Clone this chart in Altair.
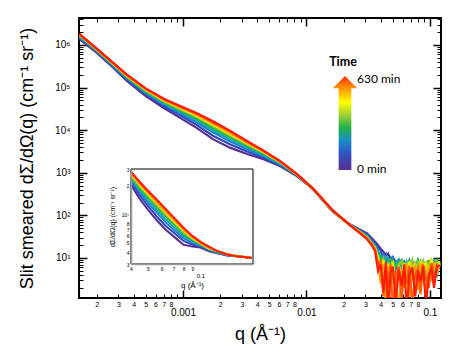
import altair as alt
import pandas as pd

# ---------------- data ----------------
TIMES = [0, 70, 140, 210, 280, 350, 420, 490, 560, 630]
COLORS = ['#5a2d91', '#3346bd', '#1f7fd0', '#15a6b5', '#24b34c',
          '#8ccc2e', '#f2e600', '#ffa200', '#ff5c00', '#ff1c00']

# smooth part of the main curves: q grid and log10 intensity (rows: q, cols: time)
Q_SMOOTH = [1.45e-4, 2.0e-4, 2.7e-4, 3.5e-4, 5.0e-4, 7.0e-4, 9.5e-4, 1.3e-3,
            1.75e-3, 2.4e-3, 3.3e-3, 4.5e-3, 6.1e-3, 8.3e-3, 1.13e-2, 1.64e-2,
            2.25e-2, 2.7e-2, 3.1e-2, 3.4e-2]
LOG_I_SMOOTH = [
    [6.14, 6.16, 6.18, 6.20, 6.22, 6.23, 6.24, 6.25, 6.25, 6.26],
    [5.82, 5.84, 5.86, 5.87, 5.88, 5.89, 5.90, 5.91, 5.91, 5.92],
    [5.48, 5.50, 5.52, 5.54, 5.55, 5.56, 5.57, 5.58, 5.58, 5.59],
    [5.16, 5.19, 5.22, 5.24, 5.25, 5.27, 5.28, 5.29, 5.30, 5.31],
    [4.80, 4.84, 4.87, 4.89, 4.91, 4.93, 4.95, 4.96, 4.97, 4.98],
    [4.52, 4.56, 4.60, 4.63, 4.66, 4.68, 4.70, 4.71, 4.73, 4.74],
    [4.29, 4.35, 4.39, 4.43, 4.47, 4.49, 4.52, 4.54, 4.55, 4.57],
    [4.05, 4.12, 4.18, 4.23, 4.27, 4.31, 4.33, 4.36, 4.38, 4.40],
    [3.79, 3.87, 3.95, 4.00, 4.05, 4.10, 4.13, 4.16, 4.18, 4.21],
    [3.59, 3.67, 3.74, 3.79, 3.84, 3.88, 3.91, 3.94, 3.97, 3.99],
    [3.44, 3.50, 3.55, 3.60, 3.64, 3.67, 3.69, 3.71, 3.73, 3.75],
    [3.32, 3.36, 3.39, 3.42, 3.45, 3.47, 3.48, 3.50, 3.51, 3.52],
    [3.16, 3.18, 3.20, 3.22, 3.24, 3.25, 3.26, 3.27, 3.27, 3.28],
    [2.93, 2.94, 2.95, 2.96, 2.96, 2.97, 2.97, 2.97, 2.98, 2.98],
    [2.62, 2.62, 2.62, 2.63, 2.63, 2.63, 2.63, 2.63, 2.63, 2.63],
    [2.08, 2.09, 2.09, 2.10, 2.10, 2.10, 2.10, 2.11, 2.11, 2.11],
    [1.79, 1.79, 1.78, 1.78, 1.78, 1.78, 1.77, 1.77, 1.77, 1.77],
    [1.67, 1.65, 1.64, 1.63, 1.62, 1.61, 1.61, 1.60, 1.59, 1.59],
    [1.58, 1.55, 1.53, 1.51, 1.49, 1.48, 1.47, 1.46, 1.45, 1.44],
    [1.46, 1.43, 1.40, 1.37, 1.35, 1.34, 1.32, 1.31, 1.30, 1.29],
]

# noisy high-q part: q grid and log10 intensity (one list per time)
Q_NOISE = [0.036, 0.038, 0.040, 0.042, 0.044, 0.046, 0.048, 0.050, 0.053, 0.056,
           0.059, 0.062, 0.065, 0.068, 0.072, 0.076, 0.080, 0.084, 0.088, 0.093,
           0.098, 0.103, 0.108, 0.114, 0.120]
LOG_I_NOISE = [
    [1.38, 1.30, 1.22, 1.15, 1.05, 1.10, 0.98, 1.02, 0.90, 0.95, 0.85, 0.92, 0.80, 0.88, 0.74, 0.86, 0.70, 0.82, 0.78, 0.66, 0.80, 0.72, 0.84, 0.76, 0.82],
    [1.34, 1.25, 1.18, 0.95, 1.08, 0.70, 1.00, 0.92, 0.60, 0.94, 0.82, 0.40, 0.86, 0.78, 0.90, 0.55, 0.84, 0.75, 0.88, 0.62, 0.85, 0.80, 0.70, 0.90, 0.86],
    [1.30, 1.20, 0.90, 1.10, 0.50, 0.98, 0.88, 1.00, 0.70, 0.88, 0.95, 0.62, 0.90, 0.75, 0.55, 0.88, 0.80, 0.92, 0.66, 0.86, 0.74, 0.90, 0.82, 0.60, 0.84],
    [1.28, 1.16, 1.05, 0.80, 1.02, 0.94, 0.60, 0.92, 0.85, 0.96, 0.70, 0.90, 0.82, 0.95, 0.68, 0.80, 0.92, 0.58, 0.85, 0.90, 0.76, 0.82, 0.94, 0.72, 0.88],
    [1.26, 1.10, 0.95, 1.00, 0.75, 0.92, 0.98, 0.55, 0.90, 0.80, 0.94, 0.86, 0.45, 0.92, 0.88, 0.70, 0.96, 0.84, 0.60, 0.90, 0.93, 0.70, 0.86, 0.95, 0.80],
    [1.24, 1.05, 0.85, 0.98, 0.50, 0.90, 0.70, 0.95, 0.40, 0.85, 0.92, 0.55, 0.88, 0.78, 0.96, 0.50, 0.90, 0.82, 0.94, 0.65, 0.88, 0.96, 0.74, 0.92, 0.86],
    [1.22, 1.00, 0.70, 0.95, 0.30, 0.85, 0.55, 0.90, 0.20, 0.82, 0.60, 0.88, 0.35, 0.92, 0.70, 0.86, 0.45, 0.94, 0.78, 0.90, 0.55, 0.95, 0.85, 0.70, 0.92],
    [1.20, 0.90, 0.40, 0.85, -0.10, 0.80, 0.20, 0.75, 0.50, -0.20, 0.70, 0.30, 0.85, 0.10, 0.65, 0.80, 0.25, 0.88, 0.55, 0.20, 0.82, 0.45, 0.90, 0.65, 0.86],
    [1.18, 0.80, 0.95, 0.10, 0.75, 0.30, 0.85, -0.20, 0.60, 0.80, 0.05, 0.70, 0.40, 0.82, -0.10, 0.60, 0.75, 0.15, 0.85, 0.50, 0.30, 0.88, 0.55, 0.78, 0.84],
    [1.16, 0.70, 0.85, 0.20, 0.90, -0.30, 0.65, 0.80, 0.00, 0.72, 0.35, 0.85, -0.25, 0.60, 0.78, 0.10, 0.70, 0.45, 0.80, -0.10, 0.62, 0.75, 0.30, 0.82, 0.80],
]

# inset curves (rows: q, cols: time), log10 intensity
Q_INSET = [0.040, 0.045, 0.050, 0.056, 0.063, 0.071, 0.080, 0.090, 0.100, 0.112,
           0.126, 0.141, 0.158, 0.178, 0.197]
LOG_I_INSET = [
    [4.31, 4.34, 4.36, 4.38, 4.40, 4.41, 4.42, 4.43, 4.44, 4.45],
    [4.16, 4.20, 4.23, 4.25, 4.27, 4.29, 4.31, 4.32, 4.33, 4.34],
    [4.05, 4.09, 4.12, 4.15, 4.18, 4.20, 4.21, 4.23, 4.24, 4.25],
    [3.94, 3.98, 4.02, 4.05, 4.08, 4.10, 4.12, 4.13, 4.15, 4.16],
    [3.84, 3.88, 3.92, 3.95, 3.98, 4.00, 4.02, 4.03, 4.05, 4.06],
    [3.76, 3.80, 3.83, 3.86, 3.89, 3.91, 3.92, 3.94, 3.95, 3.96],
    [3.68, 3.72, 3.75, 3.77, 3.79, 3.81, 3.83, 3.84, 3.85, 3.86],
    [3.66, 3.68, 3.70, 3.72, 3.73, 3.74, 3.75, 3.76, 3.77, 3.77],
    [3.65, 3.66, 3.67, 3.68, 3.68, 3.69, 3.70, 3.70, 3.71, 3.71],
    [3.61, 3.62, 3.63, 3.63, 3.64, 3.64, 3.64, 3.65, 3.65, 3.66],
    [3.59, 3.59, 3.60, 3.60, 3.60, 3.61, 3.61, 3.61, 3.61, 3.61],
    [3.57, 3.57, 3.57, 3.58, 3.58, 3.58, 3.58, 3.58, 3.58, 3.58],
    [3.56, 3.56, 3.56, 3.56, 3.56, 3.57, 3.56, 3.56, 3.56, 3.56],
    [3.55, 3.55, 3.55, 3.55, 3.55, 3.55, 3.55, 3.55, 3.55, 3.55],
    [3.54, 3.54, 3.54, 3.54, 3.54, 3.54, 3.54, 3.54, 3.54, 3.54],
]

# axis ticks / labels
X_DOMAIN = [1.44e-4, 0.123]
Y_DOMAIN = [1.15, 4.3e6]
MAJOR_X = [1e-3, 1e-2, 1e-1]
MINOR_X = [m * 10.0 ** e for e in (-4, -3, -2) for m in range(2, 10)]
LABELED_MINOR_X = [m * 10.0 ** e for e in (-4, -3, -2) for m in range(2, 9)]
MAJOR_Y = [10, 100, 1e3, 1e4, 1e5, 1e6]
MINOR_Y = [m * 10.0 ** e for e in range(0, 7) for m in range(2, 10) if m * 10.0 ** e < 4.3e6]

INSET_X_DOMAIN = [0.04, 0.2]
INSET_Y_DOMAIN = [3000, 30000]
INSET_MINOR_X = [0.04, 0.05, 0.06, 0.07, 0.08, 0.09]
INSET_MAJOR_X = [0.1]
INSET_Y_TICKS = [3000, 4000, 5000, 6000, 7000, 8000, 10000, 20000, 30000]

LEGEND_TITLE = 'Time'
LEGEND_MAX = '630 min'
LEGEND_MIN = '0 min'
Y_TITLE = 'Slit smeared dΣ/dΩ(q) (cm⁻¹ sr⁻¹)'
X_TITLE = 'q (Å⁻¹)'
INSET_Y_TITLE = 'dΣ/dΩ(q) (cm⁻¹ sr⁻¹)'
INSET_X_TITLE = 'q (Å⁻¹)'

# ---------------- tables ----------------
rows = []
for k, t in enumerate(TIMES):
    for j, q in enumerate(Q_SMOOTH):
        rows.append({'q': q, 'I': 10 ** LOG_I_SMOOTH[j][k], 't': t})
    for j, q in enumerate(Q_NOISE):
        rows.append({'q': q, 'I': 10 ** LOG_I_NOISE[k][j], 't': t})
df_main = pd.DataFrame(rows)

rows = []
for k, t in enumerate(TIMES):
    for j, q in enumerate(Q_INSET):
        rows.append({'q': q, 'I': 10 ** LOG_I_INSET[j][k], 't': t})
df_inset = pd.DataFrame(rows)

df_frame = pd.DataFrame({'q': X_DOMAIN, 'I': Y_DOMAIN})
df_box = pd.DataFrame({'q0': [INSET_X_DOMAIN[0]], 'q1': [INSET_X_DOMAIN[1]],
                       'i0': [INSET_Y_DOMAIN[0]], 'i1': [INSET_Y_DOMAIN[1]]})

# ---------------- layout ----------------
W, H = 362, 280
FONT = 'Liberation Sans'
DIGIT = "'' + round(datum.value / pow(10, floor(log(datum.value) / LN10 + 1e-6)))"
POW10 = "'10' + ['⁰','¹','²','³','⁴','⁵','⁶'][round(log(datum.value) / LN10)]"

XS = alt.Scale(type='log', domain=X_DOMAIN, nice=False)
YS = alt.Scale(type='log', domain=Y_DOMAIN, nice=False)
COLOR = alt.Color('t:O', scale=alt.Scale(domain=TIMES, range=COLORS), legend=None)


def tick_axis(orient, offset, values, size, width):
    return alt.Axis(orient=orient, offset=offset, values=values, labels=False,
                    ticks=True, tickSize=size, tickWidth=width, tickColor='black',
                    domain=False, grid=False, title=None)


lines = alt.Chart(df_main).mark_line(clip=True, strokeWidth=2.2).encode(
    x=alt.X('q:Q', scale=XS, axis=alt.Axis(
        orient='bottom', values=LABELED_MINOR_X, labelExpr=DIGIT, ticks=False,
        tickSize=0, domain=False, grid=False, labelFontSize=7, labelPadding=2,
        labelOverlap=False, labelFlush=False, title=None)),
    y=alt.Y('I:Q', scale=YS, axis=alt.Axis(
        orient='left', values=MAJOR_Y, labelExpr=POW10, ticks=False, tickSize=0,
        domain=False, grid=False, labelFontSize=10, labelPadding=9,
        labelOverlap=False, labelFlush=False, title=Y_TITLE, titleFontSize=18,
        titleFontWeight='normal', titlePadding=18)),
    color=COLOR,
)


def axes_layer(xaxis, yaxis):
    return alt.Chart(df_frame).mark_point(opacity=0).encode(
        x=alt.X('q:Q', scale=XS, axis=xaxis),
        y=alt.Y('I:Q', scale=YS, axis=yaxis),
    )


major_x_labels = alt.Axis(
    orient='bottom', values=MAJOR_X,
    labelExpr="datum.value < 0.005 ? '0.001' : datum.value < 0.05 ? '0.01' : '0.1'",
    ticks=False, tickSize=0, domain=False, grid=False, labelFontSize=10,
    labelPadding=9, labelFlush=False, labelOverlap=False, title=X_TITLE,
    titleFontSize=18, titleFontWeight='normal', titlePadding=8)

main = alt.layer(
    lines,
    axes_layer(major_x_labels, tick_axis('right', -W, MINOR_Y, 4, 1)),
    axes_layer(tick_axis('top', -H, MINOR_X, 4, 1), tick_axis('right', -W, MAJOR_Y, 8, 1.5)),
    axes_layer(tick_axis('top', -H, MAJOR_X, 8, 1.5), tick_axis('left', -W, MINOR_Y, 4, 1)),
    axes_layer(tick_axis('bottom', -H, MINOR_X, 4, 1), tick_axis('left', -W, MAJOR_Y, 8, 1.5)),
    axes_layer(tick_axis('bottom', -H, MAJOR_X, 8, 1.5), None),
).resolve_axis(x='independent', y='independent')

# ---------------- inset ----------------
IXS = alt.Scale(type='log', domain=INSET_X_DOMAIN, range=[52, 174], nice=False)
IYS = alt.Scale(type='log', domain=INSET_Y_DOMAIN, range=[246, 151], nice=False)

box = alt.Chart(df_box).mark_rect(fill='white', stroke='black', strokeWidth=1).encode(
    x=alt.X('q0:Q', scale=IXS, axis=alt.Axis(
        orient='bottom', offset=-(H - 246), values=INSET_MINOR_X, labelExpr=DIGIT,
        domain=True, domainColor='#9a9a9a', domainWidth=1.5, ticks=False, tickSize=0,
        grid=False, labelFontSize=5, labelPadding=2, labelFlush=False,
        labelOverlap=False, title=None, zindex=1)),
    x2='q1:Q',
    y=alt.Y('i0:Q', scale=IYS, axis=alt.Axis(
        orient='left', offset=-52, values=INSET_Y_TICKS,
        labelExpr="datum.value == 10000 ? '10⁴' : " + DIGIT,
        domain=True, domainColor='#9a9a9a', domainWidth=1.5, ticks=False, tickSize=0,
        grid=False, labelFontSize=5, labelPadding=2, labelFlush=False,
        labelOverlap=False, title=INSET_Y_TITLE, titleFontSize=7,
        titleFontWeight='normal', titlePadding=6, zindex=1)),
    y2='i1:Q',
)

inset_lines = alt.Chart(df_inset).mark_line(strokeWidth=2).encode(
    x=alt.X('q:Q', scale=IXS, axis=alt.Axis(
        orient='bottom', offset=-(H - 246), values=INSET_MAJOR_X, labelExpr="'0.1'",
        domain=False, ticks=False, tickSize=0, grid=False, labelFontSize=6,
        labelPadding=8, labelFlush=False, title=INSET_X_TITLE, titleFontSize=8,
        titleFontWeight='normal', titlePadding=3)),
    y=alt.Y('I:Q', scale=IYS, axis=None),
    color=COLOR,
)

inset = alt.layer(box, inset_lines).resolve_axis(x='independent', y='independent')

# ---------------- time legend (arrow) ----------------
ARROW = 'M0,-1 L0.26,-0.74 L0.135,-0.74 L0.135,1 L-0.135,1 L-0.135,-0.74 L-0.26,-0.74 Z'
GRAD = alt.LinearGradient(
    gradient='linear', x1=0, x2=0, y1=1, y2=0,
    stops=[alt.GradientStop(offset=0.0, color='#5b2c91'),
           alt.GradientStop(offset=0.18, color='#2f55c2'),
           alt.GradientStop(offset=0.32, color='#1a8fc6'),
           alt.GradientStop(offset=0.45, color='#26b04a'),
           alt.GradientStop(offset=0.6, color='#a8d432'),
           alt.GradientStop(offset=0.72, color='#ffff00'),
           alt.GradientStop(offset=0.86, color='#ff9a00'),
           alt.GradientStop(offset=1.0, color='#ff3000')])

one = pd.DataFrame({'label': [LEGEND_TITLE]})
arrow = alt.Chart(one).mark_point(shape=ARROW, size=94 * 94, filled=True, fill=GRAD,
                                  opacity=1, strokeOpacity=0).encode(
    x=alt.value(266), y=alt.value(105))
t_title = alt.Chart(pd.DataFrame({'label': [LEGEND_TITLE]})).mark_text(
    font='Lato', fontWeight='bold', fontSize=12.5, align='center', baseline='middle',
    color='black').encode(text='label:N', x=alt.value(264), y=alt.value(44))
t_max = alt.Chart(pd.DataFrame({'label': [LEGEND_MAX]})).mark_text(
    font='Lato', fontSize=12, align='left', baseline='middle', color='black').encode(
    text='label:N', x=alt.value(278), y=alt.value(61))
t_min = alt.Chart(pd.DataFrame({'label': [LEGEND_MIN]})).mark_text(
    font='Lato', fontSize=12, align='left', baseline='middle', color='black').encode(
    text='label:N', x=alt.value(278), y=alt.value(151))

chart = alt.layer(main, inset, arrow, t_title, t_max, t_min).resolve_scale(
    x='independent', y='independent'
).properties(
    width=W, height=H,
    padding={'left': 71, 'top': 10, 'right': 5, 'bottom': 52},
    autosize=alt.AutoSizeParams(type='none'),
).configure_view(
    stroke='black', strokeWidth=2
).configure_axis(
    labelFont=FONT, titleFont=FONT, labelColor='black', titleColor='black', grid=False
)

chart.save('out.html', embed_options={'renderer': 'svg', 'actions': False})
